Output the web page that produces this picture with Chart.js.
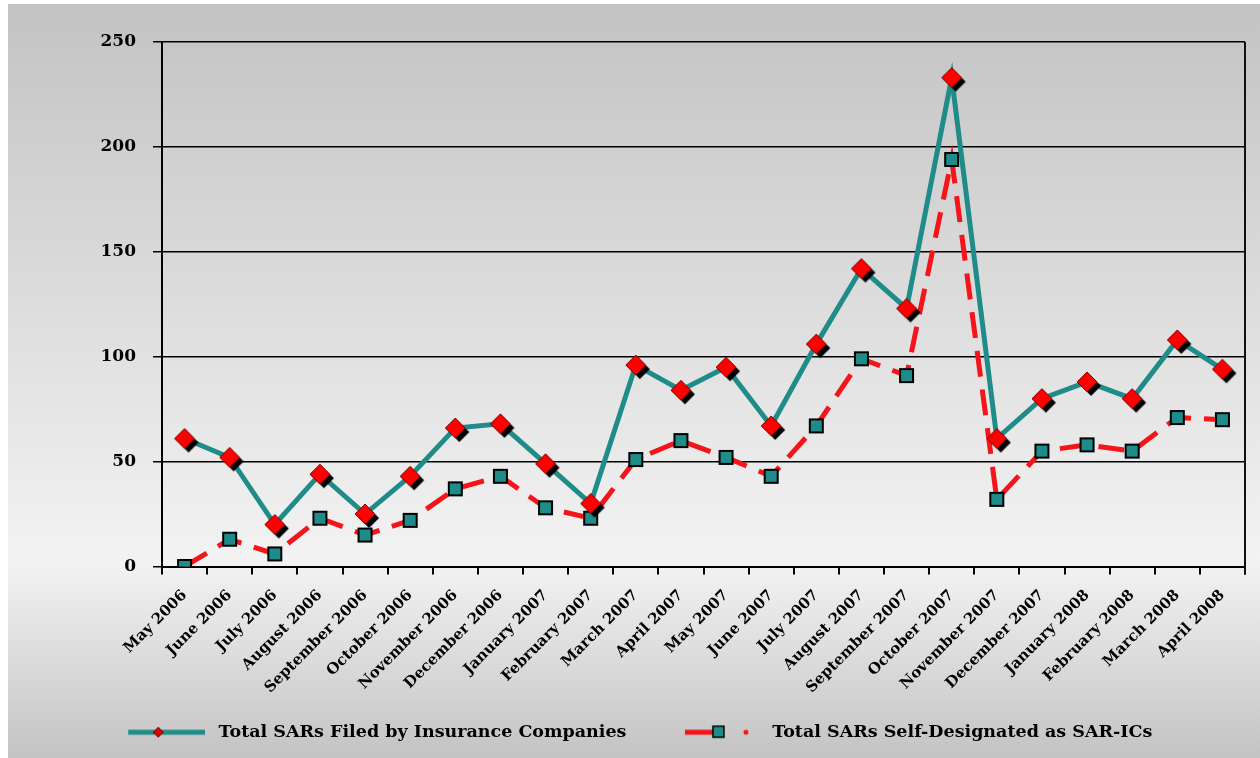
<!DOCTYPE html>
<html>
<head>
<meta charset="utf-8">
<title>SAR filings by insurance companies</title>
<script src="https://cdn.jsdelivr.net/npm/chart.js@4/dist/chart.umd.min.js"></script>
<style>
  body { margin: 0; background: #fff; }
  #wrap { position: absolute; left: 8px; top: 4px; width: 1252px; height: 754px; }
</style>
</head>
<body>
<div id="wrap"><canvas id="sarChart" width="1252" height="754"></canvas></div>
<script>
// monthly SAR counts, May 2006 - April 2008
const months = [
  'May 2006', 'June 2006', 'July 2006', 'August 2006', 'September 2006', 'October 2006',
  'November 2006', 'December 2006', 'January 2007', 'February 2007', 'March 2007', 'April 2007',
  'May 2007', 'June 2007', 'July 2007', 'August 2007', 'September 2007', 'October 2007',
  'November 2007', 'December 2007', 'January 2008', 'February 2008', 'March 2008', 'April 2008'
];
const totalFiled = [61, 52, 20, 44, 25, 43, 66, 68, 49, 30, 96, 84, 95, 67, 106, 142, 123, 233, 61, 80, 88, 80, 108, 94];
const selfDesignated = [0, 13, 6, 23, 15, 22, 37, 43, 28, 23, 51, 60, 52, 43, 67, 99, 91, 194, 32, 55, 58, 55, 71, 70];
const yTicks = [0, 50, 100, 150, 200, 250];
const seriesNames = ['Total SARs Filed by Insurance Companies', 'Total SARs Self-Designated as SAR-ICs'];

const TEAL = '#1f8c89';
const RED = '#f5141a';
const FONT = 'DejaVu Serif';

// red diamond with a black drop shadow
function diamondMarker(r, off) {
  const c = document.createElement('canvas');
  const s = 2 * (r + off) + 2;
  c.width = s; c.height = s;
  const g = c.getContext('2d');
  const m = s / 2;
  const dia = (cx, cy, col) => {
    g.beginPath();
    g.moveTo(cx, cy - r); g.lineTo(cx + r, cy); g.lineTo(cx, cy + r); g.lineTo(cx - r, cy);
    g.closePath();
    g.fillStyle = col; g.fill();
  };
  dia(m + off, m + off, '#000');
  dia(m, m, '#ff0000');
  g.strokeStyle = '#7a0000'; g.lineWidth = 1; g.stroke();
  return c;
}

function squareMarker(size) {
  const c = document.createElement('canvas');
  c.width = size + 2; c.height = size + 2;
  const g = c.getContext('2d');
  g.fillStyle = TEAL;
  g.fillRect(1, 1, size, size);
  g.strokeStyle = '#000'; g.lineWidth = 2;
  g.strokeRect(2, 2, size - 2, size - 2);
  return c;
}

// line samples for the legend (100px wide, drawn centred on the legend box)
function legendFiled() {
  const c = document.createElement('canvas');
  c.width = 100; c.height = 20;
  const g = c.getContext('2d');
  g.strokeStyle = TEAL; g.lineWidth = 5;
  g.beginPath(); g.moveTo(23, 10); g.lineTo(100, 10); g.stroke();
  g.fillStyle = '#e00000';
  g.strokeStyle = '#600'; g.lineWidth = 1;
  g.beginPath(); g.moveTo(53, 5); g.lineTo(58, 10); g.lineTo(53, 15); g.lineTo(48, 10); g.closePath();
  g.fill(); g.stroke();
  return c;
}
function legendSelf() {
  const c = document.createElement('canvas');
  c.width = 100; c.height = 20;
  const g = c.getContext('2d');
  g.strokeStyle = RED; g.lineWidth = 5;
  g.beginPath(); g.moveTo(26, 10); g.lineTo(58, 10); g.stroke();
  g.fillStyle = TEAL; g.fillRect(54, 4, 11, 11);
  g.strokeStyle = '#000'; g.lineWidth = 1.5; g.strokeRect(54, 4, 11, 11);
  g.fillStyle = RED;
  g.beginPath(); g.arc(87, 10, 2.5, 0, Math.PI * 2); g.fill();
  return c;
}

const diamond = diamondMarker(10, 4);
const square = squareMarker(15);

// grey gradient behind everything
const backdrop = {
  id: 'backdrop',
  beforeDraw(chart) {
    const { ctx, width, height } = chart;
    const grad = ctx.createLinearGradient(0, 0, 0, height);
    grad.addColorStop(0, '#c3c3c3');
    grad.addColorStop(0.74, '#f3f3f3');
    grad.addColorStop(1, '#c3c3c3');
    ctx.save();
    ctx.fillStyle = grad;
    ctx.fillRect(0, 0, width, height);
    ctx.restore();
  }
};

// closing line on the right side of the plot
const rightEdge = {
  id: 'rightEdge',
  beforeDatasetsDraw(chart) {
    const { ctx, chartArea } = chart;
    ctx.save();
    ctx.strokeStyle = '#111';
    ctx.lineWidth = 2;
    ctx.beginPath();
    ctx.moveTo(chartArea.right, chartArea.top);
    ctx.lineTo(chartArea.right, chartArea.bottom + 8);
    ctx.stroke();
    ctx.restore();
  }
};

new Chart(document.getElementById('sarChart'), {
  type: 'line',
  data: {
    labels: months,
    datasets: [
      {
        label: seriesNames[0],
        data: totalFiled,
        borderColor: TEAL,
        borderWidth: 5,
        pointStyle: diamond,
        order: 0
      },
      {
        label: seriesNames[1],
        data: selfDesignated,
        borderColor: RED,
        borderWidth: 5,
        borderDash: [26, 13],
        pointStyle: square,
        order: 1
      }
    ]
  },
  options: {
    responsive: false,
    animation: false,
    layout: { padding: { top: 38, right: 15, left: 0, bottom: 7 } },
    elements: { line: { tension: 0, fill: false } },
    plugins: {
      tooltip: { enabled: false },
      legend: {
        position: 'bottom',
        labels: {
          usePointStyle: true,
          pointStyleWidth: 109,
          padding: 28,
          color: '#000',
          font: { family: FONT, size: 17.5, weight: 'bold' },
          generateLabels() {
            return [legendFiled(), legendSelf()].map((img, i) => ({
              text: seriesNames[i],
              pointStyle: img,
              fillStyle: 'transparent',
              strokeStyle: 'transparent',
              lineWidth: 0,
              hidden: false,
              datasetIndex: i
            }));
          }
        }
      }
    },
    scales: {
      x: {
        offset: true,
        grid: { offset: true, drawOnChartArea: false, color: '#000', tickLength: 8, lineWidth: 2 },
        border: { color: '#000', width: 2 },
        ticks: {
          color: '#000',
          autoSkip: false,
          minRotation: 45,
          maxRotation: 45,
          padding: 12,
          font: { family: FONT, size: 15, weight: 'bold' }
        },
        afterFit(scale) { scale.height = 129; }
      },
      y: {
        min: 0,
        max: 250,
        afterBuildTicks(scale) { scale.ticks = yTicks.map(v => ({ value: v })); },
        grid: { color: '#000', lineWidth: 1.5, tickLength: 9 },
        border: { color: '#000', width: 2 },
        ticks: {
          color: '#000',
          padding: 17,
          font: { family: FONT, size: 17, weight: 'bold' }
        },
        afterFit(scale) { scale.width = 154; }
      }
    }
  },
  plugins: [backdrop, rightEdge]
});
</script>
</body>
</html>
